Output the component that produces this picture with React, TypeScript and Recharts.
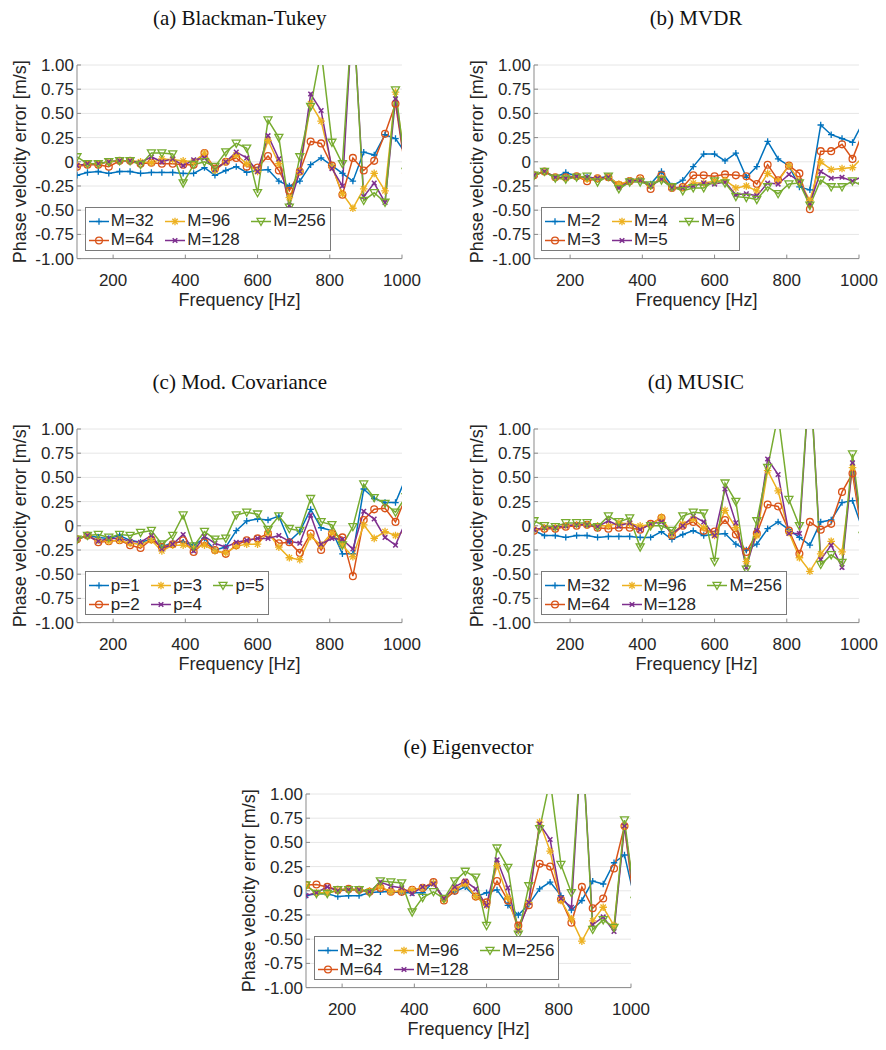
import React from 'react';
import { LineChart, Line, XAxis, YAxis, CartesianGrid } from 'recharts';

// frequency of each estimate (last one sits just past the 1000 Hz axis limit)
const FREQS = [100, 129, 159, 188, 218, 247, 276, 306, 335, 365, 394, 423, 453, 482, 512, 541, 570, 600, 629, 659, 688, 717, 747, 776, 806, 835, 864, 894, 923, 953, 982, 1011];

const X_TICKS = [200, 400, 600, 800, 1000];
const Y_TICKS = [-1, -0.75, -0.5, -0.25, 0, 0.25, 0.5, 0.75, 1];

const LABELS_M = ['M=32', 'M=64', 'M=96', 'M=128', 'M=256'];
const LABELS_MVDR = ['M=2', 'M=3', 'M=4', 'M=5', 'M=6'];
const LABELS_P = ['p=1', 'p=2', 'p=3', 'p=4', 'p=5'];

// (a) Blackman-Tukey
const BT_32 = [-0.14, -0.11, -0.1, -0.12, -0.1, -0.1, -0.12, -0.11, -0.11, -0.11, -0.12, -0.12, -0.06, -0.14, -0.09, -0.05, -0.11, -0.09, -0.08, -0.2, -0.25, -0.2, -0.03, 0.04, -0.04, -0.12, -0.2, 0.1, 0.07, 0.28, 0.24, 0.08];
const BT_64 = [-0.05, -0.03, -0.03, -0.05, 0.01, 0.01, -0.02, -0.01, -0.02, -0.02, -0.03, -0.03, 0.09, -0.07, 0, 0.04, -0.05, -0.06, 0.06, -0.09, -0.3, -0.1, 0.21, 0.19, -0.04, -0.34, 0.04, -0.09, 0.01, 0.29, 0.6, -0.12];
const BT_96 = [-0.04, -0.02, -0.02, 0, 0.01, 0.01, 0, -0.01, 0.03, 0.02, 0.01, 0, 0.09, -0.09, 0, 0.07, -0.02, -0.1, 0.22, -0.02, -0.37, -0.1, 0.6, 0.42, -0.05, -0.33, -0.48, -0.28, -0.12, -0.3, 0.72, -0.1];
const BT_128 = [-0.04, -0.02, -0.02, 0, 0.01, 0.01, -0.01, 0.05, 0, 0.03, -0.04, 0.02, 0.04, -0.08, 0, 0.1, 0.04, -0.1, 0.27, 0.03, -0.45, -0.1, 0.7, 0.53, -0.07, -0.25, 1.6, -0.36, -0.22, -0.42, 0.65, -0.1];
const BT_256 = [0.05, -0.02, -0.02, 0, 0.01, 0.01, -0.03, 0.09, 0.09, 0.08, -0.22, -0.03, 0, -0.05, 0.1, 0.19, 0.14, -0.32, 0.43, 0.25, -0.47, 0.05, 0.57, 1.15, 0.2, -0.02, 1.6, -0.4, -0.32, -0.42, 0.74, -0.1];

// (b) MVDR
const MV_2 = [-0.14, -0.1, -0.16, -0.11, -0.15, -0.16, -0.17, -0.15, -0.24, -0.2, -0.19, -0.23, -0.1, -0.25, -0.19, -0.05, 0.08, 0.08, 0.01, 0.09, -0.16, -0.05, 0.21, 0.03, -0.04, -0.26, -0.29, 0.38, 0.28, 0.24, 0.2, 0.41];
const MV_3 = [-0.14, -0.1, -0.16, -0.16, -0.15, -0.2, -0.17, -0.16, -0.24, -0.2, -0.17, -0.28, -0.14, -0.27, -0.26, -0.14, -0.14, -0.15, -0.13, -0.14, -0.15, -0.23, -0.03, -0.19, -0.04, -0.12, -0.49, 0.11, 0.11, 0.18, 0.03, 0.31];
const MV_4 = [-0.14, -0.1, -0.16, -0.17, -0.15, -0.18, -0.17, -0.16, -0.23, -0.2, -0.18, -0.25, -0.17, -0.27, -0.27, -0.22, -0.22, -0.2, -0.19, -0.27, -0.25, -0.3, -0.12, -0.2, -0.04, -0.2, -0.4, 0, -0.08, -0.07, -0.06, 0.05];
const MV_5 = [-0.14, -0.1, -0.16, -0.17, -0.15, -0.16, -0.17, -0.16, -0.27, -0.2, -0.19, -0.25, -0.18, -0.27, -0.27, -0.25, -0.22, -0.23, -0.21, -0.34, -0.33, -0.35, -0.22, -0.23, -0.13, -0.2, -0.43, -0.1, -0.17, -0.16, -0.2, -0.15];
const MV_6 = [-0.14, -0.1, -0.17, -0.18, -0.16, -0.15, -0.21, -0.15, -0.28, -0.21, -0.21, -0.24, -0.19, -0.26, -0.3, -0.27, -0.27, -0.2, -0.22, -0.36, -0.37, -0.39, -0.26, -0.33, -0.23, -0.22, -0.45, -0.19, -0.26, -0.26, -0.2, -0.25];

// (c) Modified covariance
const MC_1 = [-0.14, -0.1, -0.12, -0.13, -0.1, -0.15, -0.17, -0.14, -0.22, -0.17, -0.17, -0.2, -0.13, -0.25, -0.22, -0.05, 0.05, 0.07, 0.06, 0.1, -0.16, -0.06, 0.17, -0.02, -0.05, -0.29, -0.29, 0.38, 0.28, 0.24, 0.24, 0.5];
const MC_2 = [-0.14, -0.1, -0.17, -0.16, -0.15, -0.2, -0.23, -0.14, -0.22, -0.19, -0.15, -0.27, -0.17, -0.25, -0.29, -0.2, -0.15, -0.13, -0.08, -0.18, -0.17, -0.28, -0.08, -0.25, -0.08, -0.12, -0.52, 0.06, 0.17, 0.18, 0.04, 0.3];
const MC_3 = [-0.14, -0.1, -0.15, -0.16, -0.15, -0.18, -0.19, -0.15, -0.26, -0.2, -0.2, -0.23, -0.2, -0.26, -0.28, -0.21, -0.19, -0.19, -0.07, -0.22, -0.33, -0.35, -0.11, -0.2, -0.07, -0.2, -0.32, 0.01, -0.13, -0.06, -0.1, -0.05];
const MC_4 = [-0.14, -0.1, -0.16, -0.13, -0.13, -0.16, -0.17, -0.1, -0.24, -0.19, -0.09, -0.26, -0.11, -0.18, -0.22, -0.17, -0.15, -0.13, -0.13, -0.1, -0.16, -0.18, 0.11, -0.19, -0.13, -0.14, -0.24, 0.15, 0.07, -0.12, -0.2, 0.05];
const MC_5 = [-0.14, -0.1, -0.09, -0.12, -0.09, -0.1, -0.07, -0.05, -0.19, -0.1, 0.11, -0.21, -0.06, -0.14, -0.13, 0.11, 0.14, 0.12, -0.04, 0.1, -0.03, -0.05, 0.28, 0.04, 0.01, -0.2, -0.01, 0.43, 0.29, 0.23, 0.14, 0.3];

// (d) MUSIC
const MU_32 = [-0.05, -0.1, -0.1, -0.12, -0.1, -0.1, -0.12, -0.11, -0.11, -0.11, -0.12, -0.12, -0.06, -0.14, -0.09, -0.05, -0.1, -0.09, -0.08, -0.19, -0.25, -0.19, -0.03, 0.04, -0.04, -0.12, -0.2, 0.04, 0.06, 0.24, 0.26, -0.05];
const MU_64 = [-0.05, -0.03, -0.03, -0.01, 0, 0.01, -0.02, -0.03, -0.02, -0.02, -0.04, 0.02, 0.08, -0.1, 0, 0.04, -0.05, -0.06, 0.06, -0.09, -0.27, -0.08, 0.22, 0.2, -0.05, -0.29, 0.04, -0.04, 0.02, 0.35, 0.54, -0.15];
const MU_96 = [-0.04, -0.02, -0.02, 0, 0.01, 0.01, 0, 0, 0.03, 0.02, 0, 0.01, 0.09, -0.09, 0.02, 0.07, -0.02, -0.1, 0.16, -0.02, -0.37, -0.1, 0.57, 0.36, -0.07, -0.33, -0.47, -0.29, -0.16, -0.27, 0.6, -0.1];
const MU_128 = [-0.04, -0.02, -0.02, 0, 0.01, 0.01, -0.01, 0.05, 0, 0.03, -0.04, 0.02, 0.04, -0.08, 0, 0.1, 0.04, -0.1, 0.38, 0.03, -0.43, -0.05, 0.69, 0.53, -0.08, -0.08, 1.6, -0.35, -0.2, -0.43, 0.65, -0.1];
const MU_256 = [0.05, 0, -0.01, 0.03, 0.03, 0.03, -0.01, 0.1, 0.04, 0.08, -0.22, 0, 0, -0.05, 0.1, 0.14, 0.13, -0.37, 0.44, 0.25, -0.45, 0.05, 0.6, 1.15, 0.27, 0, 1.6, -0.4, -0.3, -0.38, 0.74, -0.1];

// (e) Eigenvector
const EV_32 = [-0.05, -0.03, -0.03, -0.06, -0.05, -0.05, -0.02, -0.01, -0.01, -0.02, -0.02, -0.02, 0.09, -0.08, -0.01, 0.04, -0.06, -0.02, 0.01, -0.15, -0.25, -0.14, 0.02, 0.09, -0.05, -0.2, -0.1, 0.1, 0.07, 0.29, 0.37, -0.1];
const EV_64 = [0.06, 0.065, 0.04, 0.01, 0.02, 0.01, -0.01, 0.03, -0.01, -0.01, 0.01, 0.03, 0.09, -0.1, 0, 0.085, -0.06, -0.12, 0.1, -0.1, -0.36, -0.15, 0.28, 0.25, -0.09, -0.33, 0.04, -0.18, -0.08, 0.23, 0.67, -0.22];
const EV_96 = [0.05, -0.02, -0.02, 0, 0.01, 0.01, 0, 0.04, -0.01, 0, 0.01, 0.03, 0.08, -0.09, 0.02, 0.07, -0.06, -0.15, 0.26, -0.07, -0.4, -0.12, 0.71, 0.41, -0.1, -0.29, -0.52, -0.31, -0.17, -0.36, 0.67, -0.1];
const EV_128 = [-0.05, -0.02, 0.04, 0, 0.01, 0.01, -0.01, 0.09, 0.05, 0.03, -0.03, 0.04, 0.07, -0.08, 0.04, 0.1, 0.02, -0.15, 0.32, 0.03, -0.41, -0.12, 0.69, 0.53, -0.08, -0.17, 1.6, -0.35, -0.27, -0.42, 0.67, -0.1];
const EV_256 = [0.06, -0.03, -0.03, 0.01, 0.01, 0.01, -0.02, 0.1, 0.09, 0.08, -0.22, -0.07, -0.01, -0.08, 0.1, 0.2, 0.14, -0.36, 0.44, 0.24, -0.45, 0.05, 0.64, 1.15, 0.27, -0.02, 1.6, -0.4, -0.3, -0.38, 0.73, -0.1];

const COLORS = ['#0072BD', '#D95319', '#EDB120', '#7E2F8E', '#77AC30'];
const MARKERS = ['plus', 'circle', 'star', 'cross', 'tri'];

const PANELS = [
  { title: '(a) Blackman-Tukey', left: 77.3, top: 64.5, labels: LABELS_M, series: [BT_32, BT_64, BT_96, BT_128, BT_256] },
  { title: '(b) MVDR', left: 533.5, top: 64.5, labels: LABELS_MVDR, series: [MV_2, MV_3, MV_4, MV_5, MV_6] },
  { title: '(c) Mod. Covariance', left: 77.3, top: 429.2, labels: LABELS_P, series: [MC_1, MC_2, MC_3, MC_4, MC_5] },
  { title: '(d) MUSIC', left: 533.5, top: 429.2, labels: LABELS_M, series: [MU_32, MU_64, MU_96, MU_128, MU_256] },
  { title: '(e) Eigenvector', left: 306, top: 794.3, labels: LABELS_M, series: [EV_32, EV_64, EV_96, EV_128, EV_256] },
];

const PW = 325; // plot width
const PH = 193.6; // plot height
const AXW = 77;
const MT = 64;
const MR = 30;
const XH = 56;
const TEXT = '#262626';
const AXIS = '#8a8a8a';

function Marker({ shape, x, y, color }: { shape: string; x: number; y: number; color: string }) {
  const sw = 1.3;
  if (shape === 'plus') {
    return (
      <g stroke={color} strokeWidth={sw}>
        <line x1={x - 3.2} y1={y} x2={x + 3.2} y2={y} />
        <line x1={x} y1={y - 3.2} x2={x} y2={y + 3.2} />
      </g>
    );
  }
  if (shape === 'circle') return <circle cx={x} cy={y} r={3.4} fill="none" stroke={color} strokeWidth={sw} />;
  if (shape === 'star') {
    return (
      <g stroke={color} strokeWidth={sw}>
        <line x1={x - 3.8} y1={y} x2={x + 3.8} y2={y} />
        <line x1={x} y1={y - 3.8} x2={x} y2={y + 3.8} />
        <line x1={x - 2.7} y1={y - 2.7} x2={x + 2.7} y2={y + 2.7} />
        <line x1={x - 2.7} y1={y + 2.7} x2={x + 2.7} y2={y - 2.7} />
      </g>
    );
  }
  if (shape === 'cross') {
    return (
      <g stroke={color} strokeWidth={1.5}>
        <line x1={x - 2.3} y1={y - 2.3} x2={x + 2.3} y2={y + 2.3} />
        <line x1={x - 2.3} y1={y + 2.3} x2={x + 2.3} y2={y - 2.3} />
      </g>
    );
  }
  return <polygon points={`${x - 4},${y - 3.2} ${x + 4},${y - 3.2} ${x},${y + 4}`} fill="none" stroke={color} strokeWidth={sw} />;
}

const fmtY = (v: number) => (v === 0 ? '0' : v.toFixed(2));

function LegendBox({ left, top, labels }: { left: number; top: number; labels: string[] }) {
  const cols = [[0, 1], [2, 3], [4]];
  return (
    <div
      style={{
        position: 'absolute', left, top, display: 'flex', background: '#fff',
        border: '1px solid #7a7a7a', padding: '4px 4px 0 3px', fontSize: 17, color: TEXT,
      }}
    >
      {cols.map((c, ci) => (
        <div key={ci} style={{ marginRight: ci < 2 ? 11.5 : 0 }}>
          {c.map((j) => (
            <div key={j} style={{ display: 'flex', alignItems: 'center', height: 19, whiteSpace: 'nowrap' }}>
              <svg width={20} height={19} style={{ marginRight: 2 }}>
                <line x1={0} y1={9.5} x2={20} y2={9.5} stroke={COLORS[j]} strokeWidth={1.5} />
                <Marker shape={MARKERS[j]} x={10} y={9.5} color={COLORS[j]} />
              </svg>
              <span>{labels[j]}</span>
            </div>
          ))}
        </div>
      ))}
    </div>
  );
}

function Panel({ p }: { p: (typeof PANELS)[number] }) {
  const rows = FREQS.map((f, i) => {
    const r: Record<string, number> = { f };
    p.series.forEach((s, j) => {
      r['s' + j] = s[i];
    });
    return r;
  });
  return (
    <>
      <div
        style={{
          position: 'absolute', left: p.left, top: p.top - 59, width: PW, textAlign: 'center',
          fontFamily: '"Liberation Serif", serif', fontSize: 21, lineHeight: '24px', color: '#111',
        }}
      >
        {p.title}
      </div>
      <div style={{ position: 'absolute', left: p.left - AXW, top: p.top - MT }}>
        <LineChart width={AXW + PW + MR} height={MT + PH + XH} data={rows} margin={{ top: MT, right: MR, bottom: 0, left: 0 }}>
          <CartesianGrid vertical={false} stroke="#e6e6e6" />
          <XAxis
            type="number" dataKey="f" domain={[100, 1000]} ticks={X_TICKS} interval={0} allowDataOverflow height={XH}
            stroke={AXIS} tickSize={-4} tickMargin={19} tick={{ fontSize: 17, fill: TEXT }}
            label={{ value: 'Frequency [Hz]', position: 'insideBottom', offset: 9, fontSize: 18, fill: TEXT }}
          />
          <YAxis
            type="number" domain={[-1, 1]} ticks={Y_TICKS} interval={0} allowDataOverflow width={AXW}
            stroke={AXIS} tickSize={-4} tickMargin={7} tickFormatter={fmtY} tick={{ fontSize: 17, fill: TEXT }}
            label={{ value: 'Phase velocity error [m/s]', angle: -90, position: 'insideLeft', offset: 20, fontSize: 18, fill: TEXT, style: { textAnchor: 'middle' } }}
          />
          {p.series.map((_, j) => (
            <Line
              key={j}
              dataKey={'s' + j}
              stroke={COLORS[j]}
              strokeWidth={1.5}
              isAnimationActive={false}
              activeDot={false}
              dot={(d: any) =>
                d.cx == null || d.cy == null ? (
                  <g key={d.index} />
                ) : (
                  <Marker key={d.index} shape={MARKERS[j]} x={d.cx} y={d.cy} color={COLORS[j]} />
                )
              }
            />
          ))}
        </LineChart>
      </div>
      <LegendBox left={p.left + 7.5} top={p.top + PH - 51.5} labels={p.labels} />
    </>
  );
}

export default function App() {
  return (
    <div
      style={{
        position: 'absolute', left: 0, top: 0, width: 886, height: 1050, background: '#fff',
        fontFamily: '"Liberation Sans", Arial, sans-serif',
      }}
    >
      {PANELS.map((p) => (
        <Panel key={p.title} p={p} />
      ))}
    </div>
  );
}
